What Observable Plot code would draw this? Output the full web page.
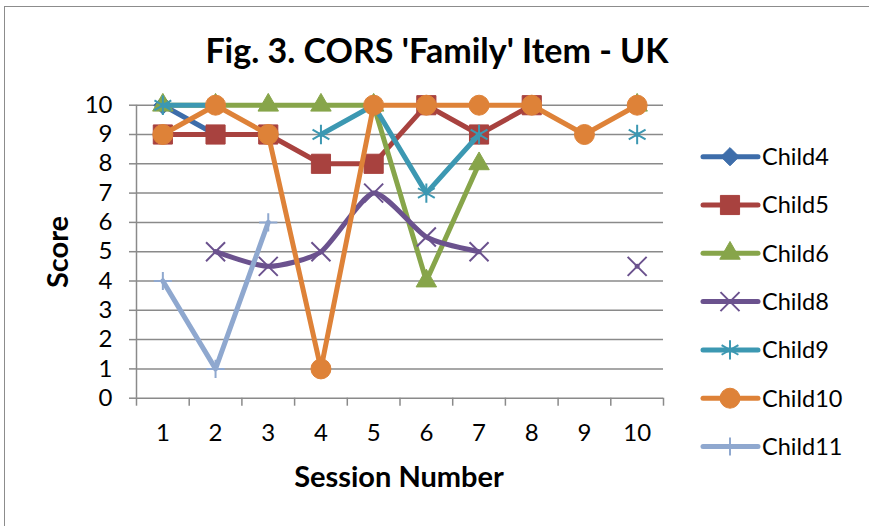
<!DOCTYPE html>
<html><head><meta charset="utf-8">
<script src="https://cdn.jsdelivr.net/npm/d3@7"></script>
<script src="https://cdn.jsdelivr.net/npm/@observablehq/plot@0.6"></script>
<style>
body{margin:0;background:#fff;}
#wrap{position:relative;width:869px;height:526px;overflow:hidden;font-family:Lato,"Open Sans",sans-serif;background:#fff;}
#frame{position:absolute;left:4px;top:6px;width:900px;height:600px;border-left:1.5px solid #8c8c8c;border-top:1.5px solid #8c8c8c;}
#plot{position:absolute;left:0;top:0;}
#overlay{position:absolute;left:0;top:0;}
</style></head><body>
<div id="wrap"><div id="frame"></div><div id="plot"></div><svg id="overlay" width="869" height="526"></svg></div>
<script>
// ---- data ----
const title = "Fig. 3. CORS 'Family' Item - UK";
const xTitle = "Session Number";
const yTitle = "Score";
const sessions = [1, 2, 3, 4, 5, 6, 7, 8, 9, 10];
const yTicks = [0, 1, 2, 3, 4, 5, 6, 7, 8, 9, 10];
const seriesNames = ["Child4", "Child5", "Child6", "Child8", "Child9", "Child10", "Child11"];
const child4  = [10, 9, null, null, null, null, null, null, null, null];
const child5  = [9, 9, 9, 8, 8, 10, 9, 10, null, null];
const child6  = [10, 10, 10, 10, 10, 4, 8, null, null, 10];
const child8  = [null, 5, 4.5, 5, 7, 5.5, 5, null, null, 4.5];
const child9  = [10, 10, null, 9, 10, 7, 9, null, null, 9];
const child10 = [9, 10, 9, 1, 10, 10, 10, 10, 9, 10];
const child11 = [4, 1, 6, null, null, null, null, null, null, null];
const seriesValues = [child4, child5, child6, child8, child9, child10, child11];

// ---- styles ----
const colors = ["#3D6DAA", "#A8423F", "#87A54A", "#6B528E", "#3C98B2", "#DE8238", "#8FA8CF"];
const symbols = ["diamond2", "square", "triangle", "times", "asterisk", "circle", "plus"];
const radii = [8.2, 10.8, 7.6, 8.7, 9.2, 10, 5.9];
const filled = [true, true, true, false, false, true, false];
const symWidth = [1, 1, 1, 2, 2, 1, 2];
const grid = "#8a8a8a";

const rows = seriesNames.map((name, k) =>
  sessions.map((s, i) => ({series: name, session: s, score: seriesValues[k][i]})));
const boundaries = [0.5, ...sessions.map(s => s + 0.5)];

const marks = [
  Plot.gridY(yTicks, {stroke: grid, strokeOpacity: 1, strokeWidth: 1.5}),
  Plot.ruleX([boundaries[0]], {stroke: grid, strokeWidth: 1.5}),
  Plot.axisY(yTicks, {tickSize: 7, tickPadding: 17, stroke: grid, strokeWidth: 1.5, fill: "black", fontSize: 24, label: null}),
  Plot.axisX(boundaries, {tickSize: 8, tickFormat: () => "", stroke: grid, strokeWidth: 1.5, label: null}),
  Plot.axisX(sessions, {tickSize: 0, tickPadding: 26, fill: "black", fontSize: 24, label: null})
];
seriesNames.forEach((name, k) => {
  marks.push(Plot.line(rows[k], {
    x: "session", y: "score", stroke: colors[k], strokeWidth: 5,
    strokeLinecap: "round", strokeLinejoin: "round",
    curve: name === "Child8" ? "cardinal" : "linear", tension: 0.35
  }));
  marks.push(Plot.dot(rows[k].filter(d => d.score != null), {
    x: "session", y: "score", symbol: () => symbols[k], r: radii[k],
    fill: filled[k] ? colors[k] : "none", stroke: colors[k], strokeWidth: symWidth[k]
  }));
});

const chart = Plot.plot({
  width: 869, height: 526,
  marginLeft: 136, marginRight: 206, marginTop: 104.7, marginBottom: 128.3,
  x: {domain: [0.5, 10.5]},
  y: {domain: [0, 10]},
  symbol: {type: "identity"},
  style: {fontFamily: "Lato, 'Open Sans', sans-serif", fontSize: "24px", color: "black", background: "transparent", overflow: "visible"},
  marks
});
document.getElementById("plot").appendChild(chart);

// ---- titles & legend ----
const ov = d3.select("#overlay");
ov.append("text").attr("x", 437).attr("y", 63).attr("text-anchor", "middle")
  .attr("font-weight", "bold").attr("font-size", 34).text(title);
ov.append("text").attr("x", 399).attr("y", 487).attr("text-anchor", "middle")
  .attr("font-weight", "bold").attr("font-size", 29).text(xTitle);
ov.append("text").attr("transform", "translate(68,252) rotate(-90)").attr("text-anchor", "middle")
  .attr("font-weight", "bold").attr("font-size", 29).text(yTitle);

const d3sym = {diamond2: d3.symbolDiamond2, square: d3.symbolSquare, triangle: d3.symbolTriangle,
  times: d3.symbolTimes, asterisk: d3.symbolAsterisk, circle: d3.symbolCircle, plus: d3.symbolPlus};
seriesNames.forEach((name, k) => {
  const cy = 156.7 + k * 48.3;
  const g = ov.append("g").attr("transform", `translate(0,${cy})`);
  g.append("line").attr("x1", 703).attr("x2", 758).attr("y1", 0).attr("y2", 0)
    .attr("stroke", colors[k]).attr("stroke-width", 5).attr("stroke-linecap", "round");
  g.append("path").attr("transform", "translate(730,0)")
    .attr("d", d3.symbol(d3sym[symbols[k]], Math.PI * radii[k] * radii[k])())
    .attr("fill", filled[k] ? colors[k] : "none").attr("stroke", colors[k]).attr("stroke-width", symWidth[k]);
  g.append("text").attr("x", 762).attr("y", 0).attr("dy", "0.36em").attr("font-size", 23.5).text(name);
});
</script></body></html>
